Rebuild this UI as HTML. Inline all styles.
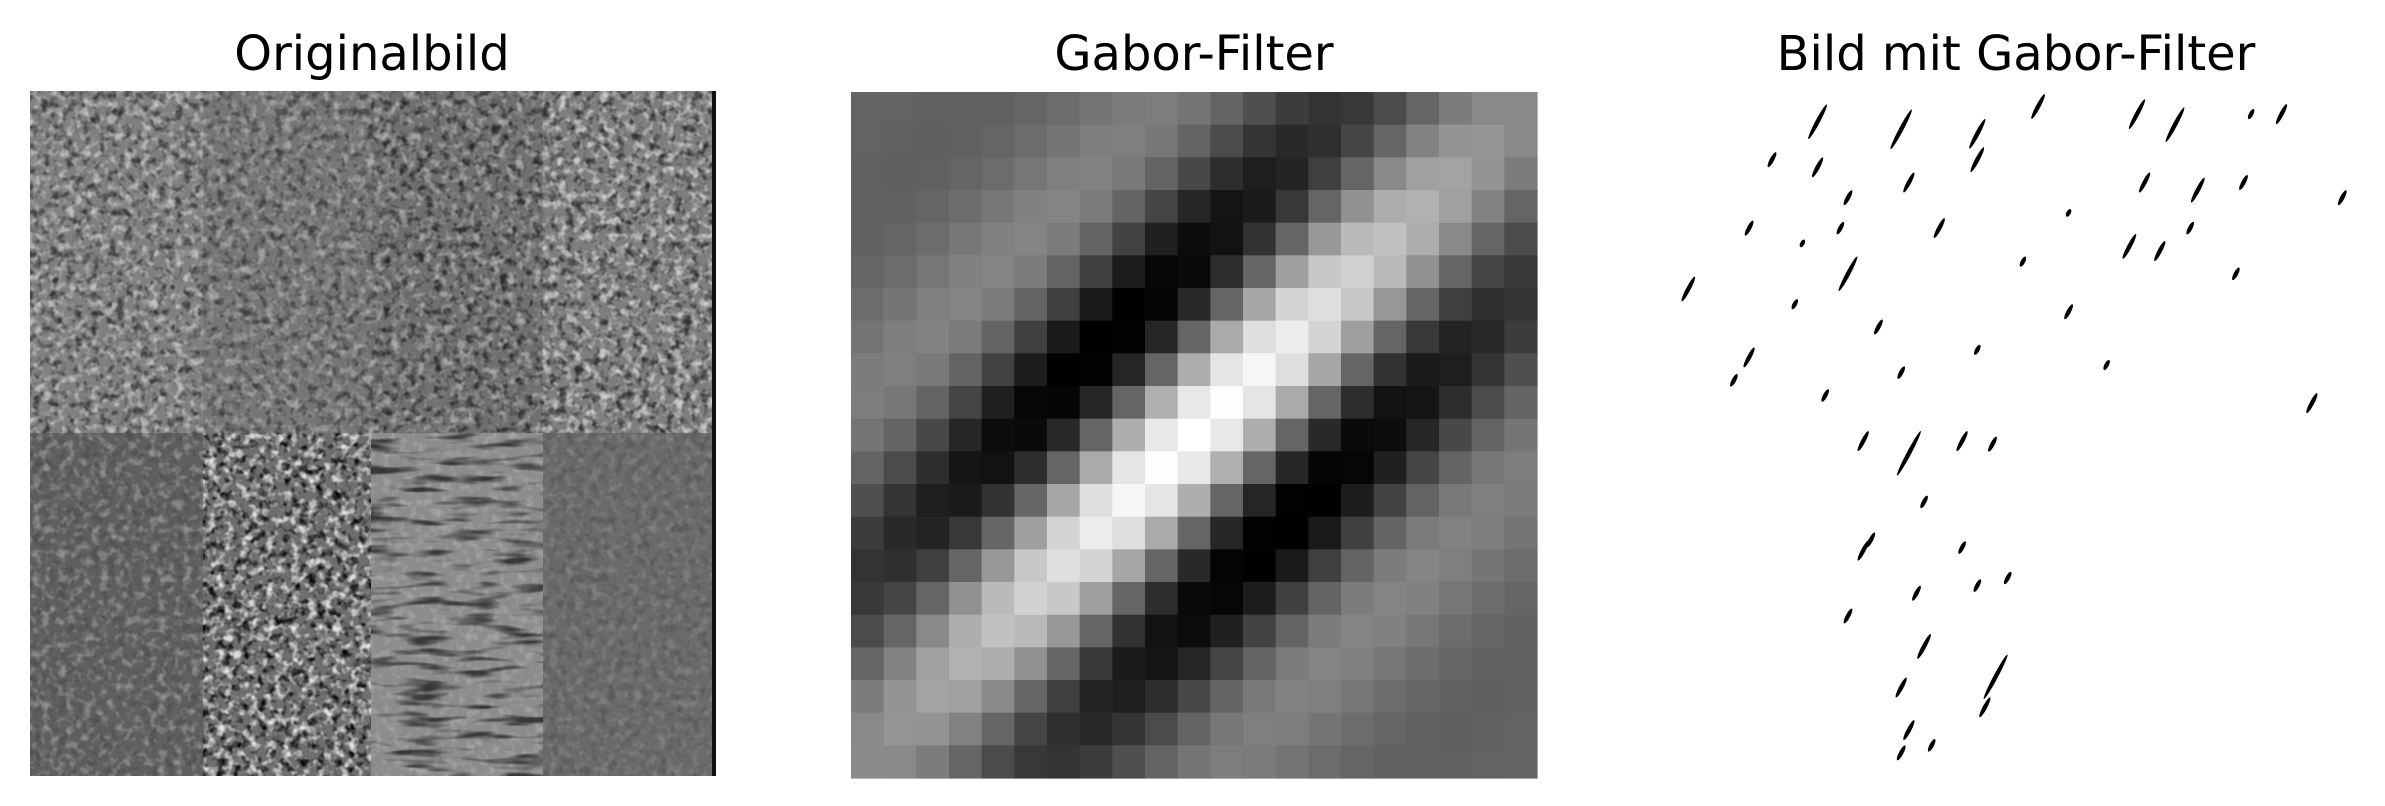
<!DOCTYPE html>
<html><head><meta charset="utf-8"><style>
html,body{margin:0;padding:0;background:#fff;}
svg{display:block;}
text{font-family:"DejaVu Sans","Liberation Sans",sans-serif;font-size:48px;fill:#000;}
</style></head><body>
<svg id="fig" width="2385" height="806" viewBox="0 0 2385 806" xmlns="http://www.w3.org/2000/svg">
<defs>
<filter id="texD" x="0" y="0" width="100%" height="100%"><feTurbulence type="fractalNoise" baseFrequency="0.12" numOctaves="2" seed="3"/><feColorMatrix type="matrix" values="0 0 0 0 0  0 0 0 0 0  0 0 0 0 0  0 0 0 -3 1.6"/></filter>
<filter id="texL" x="0" y="0" width="100%" height="100%"><feTurbulence type="fractalNoise" baseFrequency="0.12" numOctaves="2" seed="11"/><feColorMatrix type="matrix" values="0 0 0 0 1  0 0 0 0 1  0 0 0 0 1  0 0 0 -3 1.6"/></filter>
<filter id="texS" x="0" y="0" width="100%" height="100%"><feTurbulence type="fractalNoise" baseFrequency="0.02 0.12" numOctaves="2" seed="5"/><feColorMatrix type="matrix" values="0 0 0 0 0  0 0 0 0 0  0 0 0 0 0  0 0 0 -4 2.0"/></filter>
</defs>
<text x="372" y="70" text-anchor="middle">Originalbild</text>
<text x="1194" y="70" text-anchor="middle">Gabor-Filter</text>
<text x="2016" y="70" text-anchor="middle">Bild mit Gabor-Filter</text>
<g id="orig"></g>
<g id="gabor"></g>
<g id="filtered"></g>
</svg>
<script>
const NS="http://www.w3.org/2000/svg";
function mk(tag,attrs,parent){const e=document.createElementNS(NS,tag);for(const k in attrs)e.setAttribute(k,attrs[k]);parent.appendChild(e);return e;}
const tileCols=[[30,203],[203,371],[371,543],[543,712]];
const topShades=["#808080","#767676","#707070","#7e7e7e"];
const botShades=["#5f5f5f","#6e6e6e","#8c8c8c","#6a6a6a"];
const topDark=[0.55,0.45,0.6,0.6], topLight=[0.5,0.35,0.4,0.6];
const botDark=[0.15,0.9,0.0,0.15], botLight=[0.3,0.8,0.2,0.15];
const og=document.getElementById('orig');
tileCols.forEach((c,i)=>{
  const w=c[1]-c[0];
  let r=mk('rect',{x:c[0],y:91,width:w,height:342,fill:topShades[i]},og);
  
  
  mk('rect',{x:c[0],y:91,width:w,height:342,fill:"#000",filter:"url(#texD)",opacity:topDark[i]},og);
  mk('rect',{x:c[0],y:91,width:w,height:342,fill:"#fff",filter:"url(#texL)",opacity:topLight[i]},og);
  let r2=mk('rect',{x:c[0],y:433,width:w,height:343,fill:botShades[i]},og);
  
  
  mk('rect',{x:c[0],y:433,width:w,height:343,fill:"#000",filter:"url(#texD)",opacity:botDark[i]},og);
  mk('rect',{x:c[0],y:433,width:w,height:343,fill:"#fff",filter:"url(#texL)",opacity:botLight[i]},og);
  if(i===2) mk('rect',{x:c[0],y:433,width:w,height:343,fill:"#000",filter:"url(#texS)",opacity:0.6},og);
});
mk('rect',{x:712,y:91,width:4,height:685,fill:"#111"},og);
const gg=document.getElementById('gabor');
const N=21,x0=851,y0=92,cs=686/21;
let vals=[],mn=1e9,mx=-1e9;
const lam=8.5,sig=4.6,gam=0.55;
for(let r=0;r<N;r++){for(let c=0;c<N;c++){
  const x=c-10,y=r-10;
  const xp=(x+y)/Math.SQRT2, yp=(-x+y)/Math.SQRT2;
  const v=Math.exp(-(xp*xp+gam*gam*yp*yp)/(2*sig*sig))*Math.cos(2*Math.PI*xp/lam);
  vals.push(v);mn=Math.min(mn,v);mx=Math.max(mx,v);
}}
for(let r=0;r<N;r++)for(let c=0;c<N;c++){
  const g=Math.round((vals[r*N+c]-mn)/(mx-mn)*255);
  const e=mk('rect',{x:(x0+c*cs).toFixed(2),y:(y0+r*cs).toFixed(2),width:(cs+0.6).toFixed(2),height:(cs+0.6).toFixed(2),fill:`rgb(${g},${g},${g})`},gg);
  
  
}
const fg=document.getElementById('filtered');
const streaks=[[1195,80,14],[1250,85,16],[1300,88,12],[1340,70,10],[1405,75,12],[1430,82,14],[1500,75,8],[1165,105,6],[1195,110,8],[1215,130,6],[1255,120,8],[1300,105,10],[1410,120,8],[1445,125,10],[1475,120,6],[1540,130,6],[1150,150,6],[1210,150,5],[1275,150,8],[1400,162,10],[1420,165,8],[1215,180,14],[1110,190,10],[1360,205,6],[1235,215,6],[1150,235,8],[1200,260,5],[1250,245,5],[1385,240,4],[1520,265,8],[1225,290,8],[1255,298,18],[1290,290,8],[1310,292,6],[1230,355,6],[1265,330,5],[1290,360,5],[1225,362,8],[1260,390,6],[1300,385,5],[1320,380,5],[1215,405,6],[1265,425,10],[1250,452,8],[1312,445,18],[1305,465,8],[1255,480,8],[1250,495,6],[1270,490,5],[1140,250,5],[1180,200,4],[1300,230,4],[1440,150,5],[1470,180,5],[1330,172,4],[1480,75,4],[1185,160,3],[1360,140,3]];
streaks.forEach(s=>{
  const cx=s[0]*1.521,cy=s[1]*1.521;
  const e=mk('ellipse',{cx:cx.toFixed(1),cy:cy.toFixed(1),rx:(s[2]*1.4).toFixed(1),ry:2.2,fill:"#000",transform:`rotate(-62 ${cx.toFixed(1)} ${cy.toFixed(1)})`},fg);
  
  
});
</script>
</body></html>
